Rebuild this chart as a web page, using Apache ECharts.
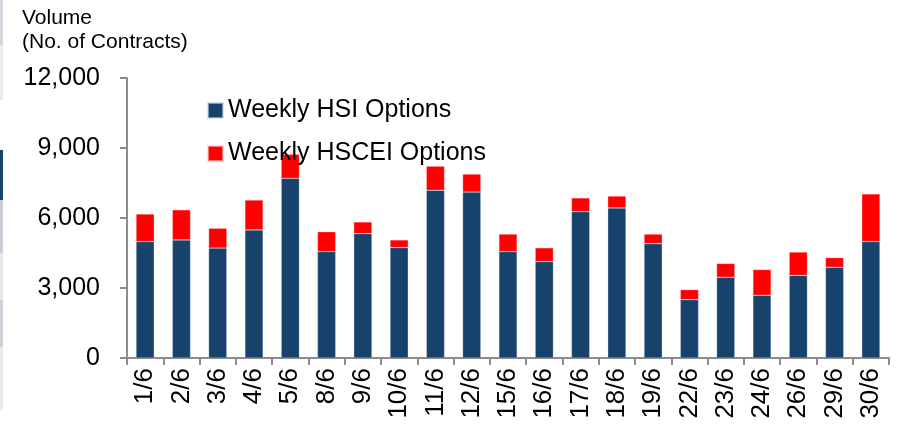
<!DOCTYPE html>
<html>
<head>
<meta charset="utf-8">
<script src="https://cdn.jsdelivr.net/npm/echarts@6/dist/echarts.min.js"></script>
<style>html,body{margin:0;padding:0;background:#fff;}#c{width:902px;height:427px;}</style>
</head>
<body>
<div id="c"></div>
<script>
var categories = ['1/6','2/6','3/6','4/6','5/6','8/6','9/6','10/6','11/6','12/6','15/6','16/6','17/6','18/6','19/6','22/6','23/6','24/6','26/6','29/6','30/6'];
var hsiValues = [4990,5060,4710,5490,7700,4560,5330,4730,7190,7110,4560,4130,6270,6430,4900,2500,3460,2690,3540,3890,4990];
var hsceiValues = [1180,1290,850,1280,1030,850,500,330,1030,770,750,590,590,510,410,430,590,1100,1000,410,2040];
var yTicks = [0,3000,6000,9000,12000];

var FONT = 'Liberation Sans, Arial, sans-serif';
var axisGray = '#8c8c8c';
var chart = echarts.init(document.getElementById('c'), null, {renderer:'canvas'});
var strips = [
  [0,45,'#d3d7dd'],[45,100,'#eaecee'],[150,200,'#17426a'],[200,253,'#c9ced6'],
  [253,300,'#e5e7ea'],[300,347,'#cdd1d8'],[347,410,'#e8eaec']
];
chart.setOption({
  animation:false,
  backgroundColor:'#fff',
  textStyle:{fontFamily:FONT},
  graphic: strips.map(function(s){return {type:'rect',left:0,top:s[0],shape:{x:0,y:0,width:3,height:s[1]-s[0]},style:{fill:s[2]},silent:true};}),
  title:{
    text:'Volume\n(No. of Contracts)',
    left:17, top:1,
    textStyle:{fontFamily:FONT,fontSize:21,fontWeight:'normal',color:'#000',lineHeight:24}
  },
  legend:{
    orient:'vertical', left:202, top:93,
    itemWidth:15, itemHeight:15, itemGap:18,
    icon:'rect',
    textStyle:{fontFamily:FONT,fontSize:25,color:'#000',padding:[0,0,0,0]},
    data:['Weekly HSI Options','Weekly HSCEI Options']
  },
  grid:{left:127,right:13,top:78,bottom:69,containLabel:false},
  xAxis:{
    type:'category', data:categories, boundaryGap:true,
    axisLine:{lineStyle:{color:axisGray,width:2}},
    axisTick:{show:true,length:7,lineStyle:{color:axisGray,width:2}},
    axisLabel:{rotate:90,interval:0,fontFamily:FONT,fontSize:26,color:'#000',margin:10}
  },
  yAxis:{
    type:'value', min:yTicks[0], max:yTicks[yTicks.length-1], interval:3000,
    axisLine:{show:true,lineStyle:{color:axisGray,width:2}},
    axisTick:{show:true,length:7,lineStyle:{color:axisGray,width:2}},
    splitLine:{show:false},
    axisLabel:{fontFamily:FONT,fontSize:25,color:'#000',margin:27,
      formatter:function(v){return v.toLocaleString('en-US');}}
  },
  series:[
    {name:'Weekly HSI Options',type:'bar',stack:'t',data:hsiValues,barWidth:'50%',
     itemStyle:{color:'#16426b',borderColor:'rgba(200,210,225,0.6)',borderWidth:0.5}},
    {name:'Weekly HSCEI Options',type:'bar',stack:'t',data:hsceiValues,barWidth:'50%',
     itemStyle:{color:'#ff0000',borderColor:'rgba(255,200,200,0.6)',borderWidth:0.5}}
  ]
});
</script>
</body>
</html>
